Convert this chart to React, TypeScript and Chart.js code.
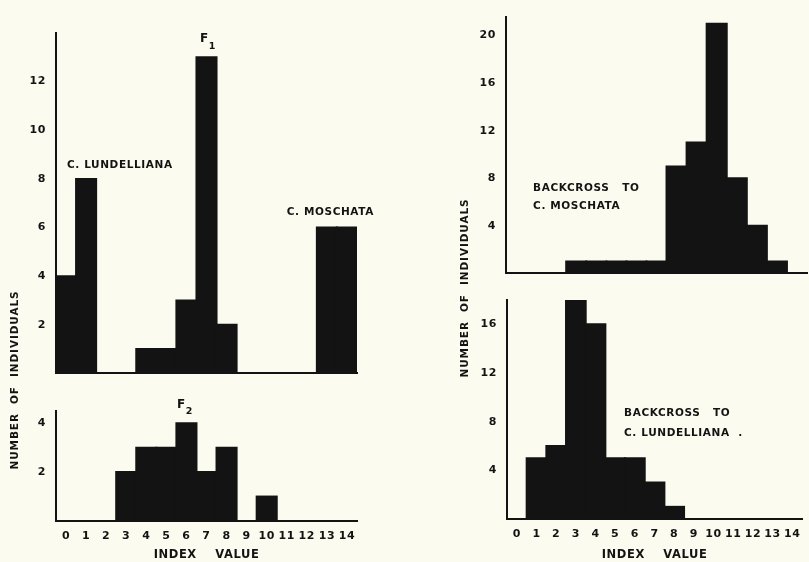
import React, { useEffect, useRef } from "react";
import { Chart, registerables } from "chart.js";

Chart.register(...registerables);

// ---------- data ----------
const INDEX_VALUES = ["0", "1", "2", "3", "4", "5", "6", "7", "8", "9", "10", "11", "12", "13", "14"];

// parents and F1 (top left)
const C_LUNDELLIANA = [4, 8, 0, 0, 0, 0, 0, 0, 0, 0, 0, 0, 0, 0, 0];
const F1 = [0, 0, 0, 0, 1, 1, 3, 13, 2, 0, 0, 0, 0, 0, 0];
const C_MOSCHATA = [0, 0, 0, 0, 0, 0, 0, 0, 0, 0, 0, 0, 0, 6, 6];
// F2 (bottom left)
const F2 = [0, 0, 0, 2, 3, 3, 4, 2, 3, 0, 1, 0, 0, 0, 0];
// backcrosses (right)
const BACKCROSS_MOSCHATA = [0, 0, 0, 1, 1, 1, 1, 1, 9, 11, 21, 8, 4, 1, 0];
const BACKCROSS_LUNDELLIANA = [0, 5, 6, 18, 16, 5, 5, 3, 1, 0, 0, 0, 0, 0, 0];

// y tick labels
const TICKS_PARENTS = [2, 4, 6, 8, 10, 12];
const TICKS_F2 = [2, 4];
const TICKS_BC_MOSCHATA = [4, 8, 12, 16, 20];
const TICKS_BC_LUNDELLIANA = [4, 8, 12, 16];

// ---------- style ----------
const INK = "#131313";
const PAPER = "#fbfbef";
const FAMILY = "'DejaVu Sans', 'Liberation Sans', Arial, sans-serif";
const SPACING = "0.6px";

Chart.defaults.font = { family: FAMILY, size: 11, weight: "bold", lineHeight: 1.2 } as any;
Chart.defaults.color = INK;

type Label = { text: string; x: number; y: number; size?: number; sub?: string };
type Side = { text: string; cx: number; cy: number } | null;

function makeLettering(labels: Label[], side: Side) {
  return {
    id: "lettering",
    beforeDraw(chart: any) {
      chart.ctx.letterSpacing = SPACING;
    },
    afterDatasetsDraw(chart: any) {
      const { ctx, scales } = chart;
      const xs = scales.x;
      const ys = scales.y;
      ctx.save();
      ctx.letterSpacing = SPACING;
      ctx.fillStyle = INK;
      ctx.textAlign = "left";
      ctx.textBaseline = "middle";
      for (const a of labels) {
        const px = xs.getPixelForValue(a.x);
        const py = ys.getPixelForValue(a.y);
        ctx.font = `bold ${a.size || 10.5}px ${FAMILY}`;
        ctx.fillText(a.text, px, py);
        if (a.sub) {
          const w = ctx.measureText(a.text).width;
          ctx.font = `bold 9.5px ${FAMILY}`;
          ctx.fillText(a.sub, px + w, py + 7);
        }
      }
      if (side) {
        ctx.translate(side.cx, side.cy);
        ctx.rotate(-Math.PI / 2);
        ctx.textAlign = "center";
        ctx.font = `bold 10.5px ${FAMILY}`;
        ctx.letterSpacing = "0.9px";
        ctx.fillText(side.text, 0, 0);
      }
      ctx.restore();
    },
  };
}

type PanelSpec = {
  left: number;
  top: number;
  width: number;
  height: number;
  series: number[][];
  yMax: number;
  yTicks: number[];
  padding: { left: number; right: number; top: number; bottom: number };
  xHeight: number;
  showX: boolean;
  labels: Label[];
  side: Side;
};

function buildConfig(p: PanelSpec): any {
  return {
    type: "bar",
    data: {
      labels: INDEX_VALUES,
      datasets: p.series.map((s) => ({
        data: s.map((v) => (v ? v : null)),
        backgroundColor: INK,
        borderWidth: 0,
        inflateAmount: 1,
        categoryPercentage: 1,
        barPercentage: 1,
        grouped: false,
      })),
    },
    options: {
      responsive: false,
      animation: false,
      devicePixelRatio: 1,
      layout: { padding: p.padding },
      plugins: { legend: { display: false }, tooltip: { enabled: false } },
      scales: {
        x: {
          type: "category",
          offset: true,
          grid: { display: false, drawTicks: false },
          border: { display: true, color: INK, width: 2 },
          ticks: {
            display: p.showX,
            padding: 9,
            autoSkip: false,
            maxRotation: 0,
            color: INK,
            font: { size: 11, weight: "bold" },
          },
          title: {
            display: p.showX,
            text: "INDEX    VALUE",
            padding: 0,
            color: INK,
            font: { size: 11.5, weight: "bold" },
          },
          afterFit: (s: any) => {
            s.height = p.xHeight;
          },
        },
        y: {
          min: 0,
          max: p.yMax,
          grid: { display: false, drawTicks: false },
          border: { display: true, color: INK, width: 2 },
          ticks: { padding: 10, color: INK, font: { size: 11, weight: "bold" } },
          afterBuildTicks: (s: any) => {
            s.ticks = p.yTicks.map((v) => ({ value: v }));
          },
          afterFit: (s: any) => {
            s.width = 46;
          },
        },
      },
    },
    plugins: [makeLettering(p.labels, p.side)],
  };
}

function Panel({ spec }: { spec: PanelSpec }) {
  const ref = useRef<HTMLCanvasElement | null>(null);
  useEffect(() => {
    if (!ref.current) return;
    const chart = new Chart(ref.current, buildConfig(spec));
    return () => chart.destroy();
  }, [spec]);
  return (
    <canvas
      ref={ref}
      width={spec.width}
      height={spec.height}
      style={{
        position: "absolute",
        left: spec.left,
        top: spec.top,
        width: spec.width,
        height: spec.height,
      }}
    />
  );
}

const PANELS: PanelSpec[] = [
  {
    left: 0,
    top: 0,
    width: 380,
    height: 390,
    series: [C_LUNDELLIANA, F1, C_MOSCHATA],
    yMax: 14,
    yTicks: TICKS_PARENTS,
    padding: { left: 10, right: 23, top: 33, bottom: 15 },
    xHeight: 0,
    showX: false,
    labels: [
      { text: "C. LUNDELLIANA", x: 0.05, y: 8.55 },
      { text: "F", sub: "1", x: 6.67, y: 13.75, size: 12 },
      { text: "C. MOSCHATA", x: 11.0, y: 6.63 },
    ],
    side: null,
  },
  {
    left: 0,
    top: 260,
    width: 380,
    height: 302,
    series: [F2],
    yMax: 4.5,
    yTicks: TICKS_F2,
    padding: { left: 10, right: 23, top: 151, bottom: 0 },
    xHeight: 41,
    showX: true,
    labels: [{ text: "F", sub: "2", x: 5.53, y: 4.75, size: 12 }],
    side: { text: "NUMBER  OF  INDIVIDUALS", cx: 15, cy: 120 },
  },
  {
    left: 420,
    top: 0,
    width: 389,
    height: 290,
    series: [BACKCROSS_MOSCHATA],
    yMax: 21.6,
    yTicks: TICKS_BC_MOSCHATA,
    padding: { left: 40, right: 2, top: 12, bottom: 15 },
    xHeight: 0,
    showX: false,
    labels: [
      { text: "BACKCROSS   TO", x: 0.85, y: 7.14 },
      { text: "C. MOSCHATA", x: 0.85, y: 5.67 },
    ],
    side: null,
  },
  {
    left: 420,
    top: 180,
    width: 389,
    height: 382,
    series: [BACKCROSS_LUNDELLIANA],
    yMax: 18,
    yTicks: TICKS_BC_LUNDELLIANA,
    padding: { left: 41, right: 2, top: 120, bottom: 0 },
    xHeight: 43,
    showX: true,
    labels: [
      { text: "BACKCROSS   TO", x: 5.45, y: 8.71 },
      { text: "C. LUNDELLIANA  .", x: 5.45, y: 7.07 },
    ],
    side: { text: "NUMBER  OF  INDIVIDUALS", cx: 45, cy: 108 },
  },
];

export default function App() {
  return (
    <div
      style={{
        position: "absolute",
        left: 0,
        top: 0,
        width: 809,
        height: 562,
        background: PAPER,
        overflow: "hidden",
      }}
    >
      {PANELS.map((p, i) => (
        <Panel key={i} spec={p} />
      ))}
    </div>
  );
}
